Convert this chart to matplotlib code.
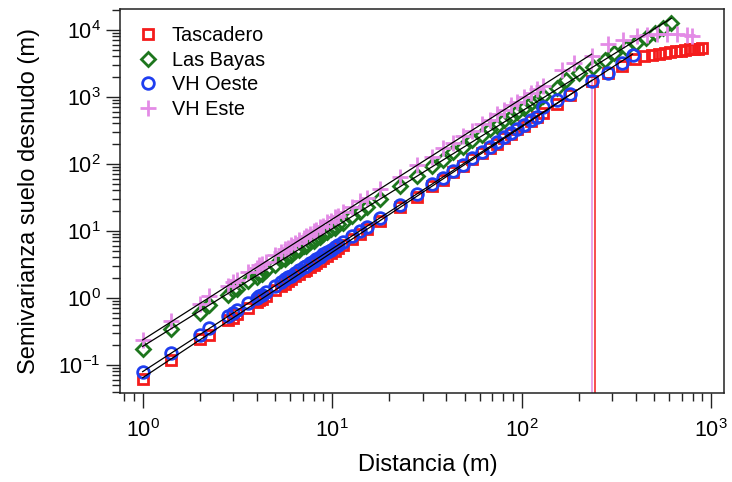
import numpy as np
import matplotlib
matplotlib.use("Agg")
import matplotlib.pyplot as plt
from matplotlib.ticker import LogLocator, NullFormatter

plt.rcParams["font.family"] = ["Liberation Sans", "DejaVu Sans"]
plt.rcParams["mathtext.fontset"] = "custom"
plt.rcParams["mathtext.rm"] = "Liberation Sans"
plt.rcParams["mathtext.it"] = "Liberation Sans:italic"
plt.rcParams["mathtext.bf"] = "Liberation Sans:bold"

# distancias (m) comunes a las cuatro parcelas
lag_small = [1, 1.41, 2, 2.24, 2.83, 3, 3.16, 3.61, 4, 4.12,
             4.24, 4.47, 5, 5.39, 5.66, 5.83, 6.08, 6.4, 6.71, 7.07,
             7.28, 7.62, 8, 8.25, 8.6, 9, 9.43, 9.85, 10.3, 10.8,
             11.4, 12.7, 14.0, 15.2, 17.8, 22.7, 27.9, 33.5, 38.3, 43.3,
             48.8, 55, 61.6, 67.9, 74, 81, 88, 95, 103, 112,
             120, 129, 153, 179, 234]

# Tascadero
tasc_lag = lag_small + [284, 337, 395, 445, 490, 530, 570, 610, 650, 690,
                        730, 770, 810, 850, 890]
tasc_gamma = [0.062, 0.12, 0.24, 0.28, 0.46, 0.50, 0.57, 0.70, 0.86, 0.93,
              0.95, 1.07, 1.30, 1.52, 1.63, 1.78, 1.88, 2.10, 2.25, 2.52,
              2.62, 2.90, 3.12, 3.36, 3.58, 3.95, 4.28, 4.67, 5.02, 5.55,
              6.10, 7.50, 8.90, 10.6, 13.8, 22.5, 32.0, 46.5, 58.0, 75.0,
              92.0, 117, 143, 174, 200, 241, 277, 326, 372, 441,
              496, 575, 790, 1050, 1740,
              2240, 2900, 3700, 4050, 4250, 4400, 4550, 4700, 4800, 4900,
              5000, 5100, 5200, 5250, 5350]

# Las Bayas
bayas_lag = lag_small[:53] + [172, 202, 237, 274, 309, 357, 403, 455, 504, 555, 617]
bayas_gamma = [0.175, 0.34, 0.60, 0.78, 1.10, 1.30, 1.36, 1.80, 2.05, 2.30,
               2.28, 2.60, 3.05, 3.65, 3.85, 4.20, 4.35, 4.95, 5.20, 5.90,
               6.00, 6.75, 7.10, 7.75, 8.05, 9.05, 9.50, 10.6, 11.1, 12.5,
               13.3, 16.8, 19.2, 23.0, 29.5, 47.0, 65.5, 94.0, 115, 148,
               177, 226, 270, 330, 372, 450, 505, 600, 672, 800,
               880, 1030, 1360,
               1780, 2240, 2820, 3550, 4470, 5370, 6310, 7590, 8910, 10700, 12600]

# VH Oeste
oeste_lag = lag_small + [284, 337, 385]
oeste_gamma = [0.079, 0.15, 0.28, 0.35, 0.53, 0.60, 0.65, 0.84, 1.00, 1.07,
               1.10, 1.24, 1.50, 1.75, 1.88, 2.02, 2.15, 2.38, 2.57, 2.86,
               2.98, 3.30, 3.55, 3.80, 4.05, 4.45, 4.80, 5.25, 5.65, 6.20,
               6.80, 8.30, 10.0, 11.5, 15.5, 24.0, 35.0, 49.5, 62.0, 79.0,
               97.0, 122, 149, 180, 208, 248, 285, 333, 382, 450,
               505, 700, 890, 1100, 1700,
               2290, 3160, 4270]

# VH Este
este_lag = lag_small[:52] + [164, 190, 234, 284, 341, 404, 457, 516, 582, 658, 743, 796]
este_gamma = [0.235, 0.45, 0.80, 1.05, 1.50, 1.72, 1.85, 2.45, 2.80, 3.05,
              3.20, 3.40, 4.30, 4.80, 5.40, 5.55, 6.15, 6.50, 7.35, 7.80,
              8.50, 8.95, 10.1, 10.2, 11.5, 11.9, 13.6, 14.1, 16.0, 16.6,
              19.2, 22.3, 27.8, 30.8, 42.5, 63.5, 96.0, 127, 170, 203,
              262, 312, 398, 458, 550, 628, 750, 840, 1000, 1130,
              1310, 1460,
              2500, 3150, 4000, 6030, 7080, 7940, 8320, 8510, 8510, 8510, 8320, 7940]

# tramo usado en el ajuste potencial de cada parcela
fit_max = {"Tascadero": 234, "Las Bayas": 617, "VH Oeste": 385, "VH Este": 234}
# alcance marcado con linea vertical
alcance = {"VH Este": 235, "Tascadero": 244}

series = [
    ("Tascadero", tasc_lag, tasc_gamma, "s", "#f41c1c", 7.8),
    ("Las Bayas", bayas_lag, bayas_gamma, "D", "#1d761d", 7.4),
    ("VH Oeste", oeste_lag, oeste_gamma, "o", "#1f3ef0", 8.4),
    ("VH Este", este_lag, este_gamma, "+", "#e38be6", 12.0),
]


def power_fit(x, y, xmax):
    x = np.asarray(x, float)
    y = np.asarray(y, float)
    m = x <= xmax
    b, a = np.polyfit(np.log10(x[m]), np.log10(y[m]), 1)
    return a, b, x[m].min(), x[m].max()


fig = plt.figure(figsize=(7.32, 4.82), dpi=100)
ax = fig.add_axes([120.3 / 732, 89 / 482, 603.7 / 732, 384 / 482])
ax.set_xscale("log")
ax.set_yscale("log")

fits = {}
for name, x, y, mk, col, ms in series:
    ax.plot(x, y, ls="none", marker=mk, ms=ms, mfc="none", mec=col,
            mew=2.0, label=name, zorder=3)
    fits[name] = power_fit(x, y, fit_max[name])

ymin = 10 ** -1.42
for name, (a, b, x0, x1) in fits.items():
    xs = np.array([x0, x1])
    ax.plot(xs, 10 ** a * xs ** b, color="black", lw=0.9, zorder=4)

for name, col in [("VH Este", "#e38be6"), ("Tascadero", "#f41c1c")]:
    a, b, _, _ = fits[name]
    xr = alcance[name]
    ax.vlines(xr, ymin, 10 ** a * xr ** b, color=col, lw=1.1, zorder=2)

ax.set_xlim(10 ** -0.118, 10 ** 3.068)
ax.set_ylim(ymin, 10 ** 4.31)

for s in ax.spines.values():
    s.set_color("#222222")
    s.set_linewidth(1.1)

ax.xaxis.set_major_locator(LogLocator(base=10, numticks=20))
ax.yaxis.set_major_locator(LogLocator(base=10, numticks=20))
ax.xaxis.set_minor_locator(LogLocator(base=10, subs=np.arange(2, 10), numticks=100))
ax.yaxis.set_minor_locator(LogLocator(base=10, subs=np.arange(2, 10), numticks=100))
ax.xaxis.set_minor_formatter(NullFormatter())
ax.yaxis.set_minor_formatter(NullFormatter())
ax.tick_params(which="both", direction="out", color="#222222", width=1.0,
               top=False, right=False, labelsize=15.5)
ax.tick_params(axis="x", which="major", length=11, pad=8)
ax.tick_params(axis="y", which="major", length=10, pad=4)
ax.tick_params(which="minor", length=5.5)

ax.set_xlabel("Distancia (m)", fontsize=17)
ax.set_ylabel("Semivarianza suelo desnudo (m)", fontsize=17)
ax.xaxis.set_label_coords(0.51, -0.16)
ax.yaxis.set_label_coords(-0.133, 0.5)

ax.legend(loc="upper left", bbox_to_anchor=(0.026, 0.955), frameon=False,
          fontsize=14.3, handlelength=1.2, handletextpad=0.6,
          labelspacing=0.28, borderpad=0, borderaxespad=0)

fig.savefig("out.png", dpi=100)
